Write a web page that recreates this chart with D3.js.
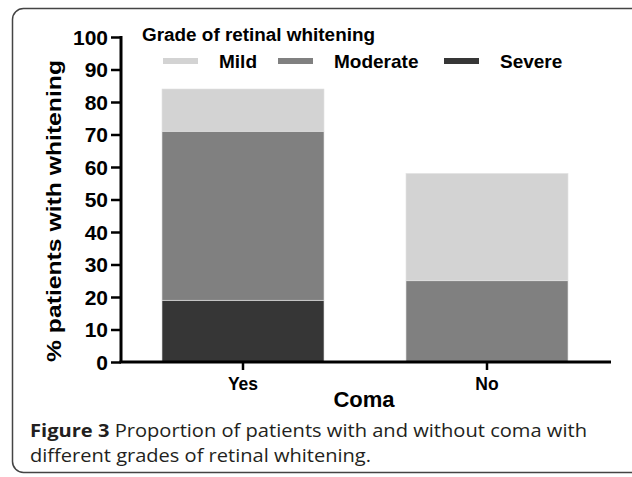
<!DOCTYPE html>
<html><head><meta charset="utf-8">
<script src="https://cdn.jsdelivr.net/npm/d3@7"></script>
<style>body{margin:0;background:#fff}svg{display:block}</style>
</head><body><svg id="c" width="632" height="477"></svg>
<script>
const categories = ["Yes", "No"];
const grades = ["Severe", "Moderate", "Mild"];
const severe = [19, 0];
const moderate = [52, 25];
const mild = [13, 33];
const yTicks = [0, 10, 20, 30, 40, 50, 60, 70, 80, 90, 100];
const legendOrder = ["Mild", "Moderate", "Severe"];
const colors = {Mild: "#d3d3d3", Moderate: "#808080", Severe: "#363636"};

const svg = d3.select("#c");
const F = "'Liberation Sans', Arial, sans-serif";

// border
svg.append("rect").attr("x", 12.5).attr("y", 8.5).attr("width", 640).attr("height", 464)
  .attr("rx", 11).attr("fill", "none").attr("stroke", "#444").attr("stroke-width", 1.5);

const x = d3.scaleBand().domain(categories).range([121, 609]).paddingInner(0.336).paddingOuter(0.168);
const y = d3.scaleLinear().domain([0, 100]).range([362, 37]);

const rows = categories.map((c, i) => ({cat: c, Severe: severe[i], Moderate: moderate[i], Mild: mild[i]}));
const stack = d3.stack().keys(grades)(rows);

svg.append("g").selectAll("g").data(stack).join("g")
  .attr("fill", d => colors[d.key])
  .selectAll("rect").data(d => d.filter(s => s[1] > s[0])).join("rect")
  .attr("x", d => x(d.data.cat)).attr("width", x.bandwidth())
  .attr("y", d => y(d[1])).attr("height", d => y(d[0]) - y(d[1]))
  .attr("stroke", "#e2e2e2").attr("stroke-width", 0.6);

// y axis
const ya = svg.append("g").attr("transform", "translate(121,0)")
  .call(d3.axisLeft(y).tickValues(yTicks).tickSize(10).tickPadding(3));
ya.select(".domain").attr("stroke", "#000").attr("stroke-width", 3).attr("d", `M0,${y(100)-1}V${y(0)}`);
ya.selectAll(".tick line").attr("stroke", "#000").attr("stroke-width", 2.5);
ya.selectAll(".tick text").attr("font-family", F).attr("font-weight", "bold").attr("font-size", 21).attr("fill", "#000").attr("dy", "0.35em");

// x axis
const xa = svg.append("g").attr("transform", `translate(0,${y(0)})`)
  .call(d3.axisBottom(x).tickSize(8).tickPadding(8));
xa.select(".domain").attr("stroke", "#000").attr("stroke-width", 3).attr("d", "M119.5,0H611");
xa.selectAll(".tick line").attr("stroke", "#000").attr("stroke-width", 2.5);
xa.selectAll(".tick text").attr("font-family", F).attr("font-weight", "bold").attr("font-size", 17.5).attr("fill", "#000");

// axis titles
svg.append("text").attr("x", 364).attr("y", 407).attr("text-anchor", "middle")
  .attr("font-family", F).attr("font-weight", "bold").attr("font-size", 22).text("Coma");
svg.append("text").attr("transform", "translate(61,211) rotate(-90)").attr("text-anchor", "middle")
  .attr("font-family", F).attr("font-weight", "bold").attr("font-size", 20.5).attr("textLength", 302)
  .attr("lengthAdjust", "spacingAndGlyphs").text("% patients with whitening");

// legend
svg.append("text").attr("x", 142).attr("y", 41).attr("font-family", F).attr("font-weight", "bold")
  .attr("font-size", 18).attr("textLength", 233).attr("lengthAdjust", "spacingAndGlyphs").text("Grade of retinal whitening");
const legX = {Mild: 163, Moderate: 278, Severe: 444};
const lg = svg.append("g").selectAll("g").data(legendOrder).join("g");
lg.append("rect").attr("x", d => legX[d]).attr("y", 58).attr("width", 35).attr("height", 6).attr("fill", d => colors[d]);
lg.append("text").attr("x", d => legX[d] + 56).attr("y", 68).attr("font-family", F).attr("font-weight", "bold")
  .attr("font-size", 19).text(d => d);

// caption
const cap = svg.append("g").attr("font-family", "'Open Sans', 'Noto Sans', sans-serif").attr("font-size", 17.5).attr("fill", "#231f20");
const t1 = cap.append("text").attr("x", 30).attr("y", 437).attr("textLength", 557).attr("lengthAdjust", "spacingAndGlyphs");
t1.append("tspan").attr("font-weight", "bold").text("Figure 3");
t1.append("tspan").text(" Proportion of patients with and without coma with");
cap.append("text").attr("x", 30).attr("y", 462).attr("textLength", 341).attr("lengthAdjust", "spacingAndGlyphs")
  .text("different grades of retinal whitening.");
</script></body></html>
